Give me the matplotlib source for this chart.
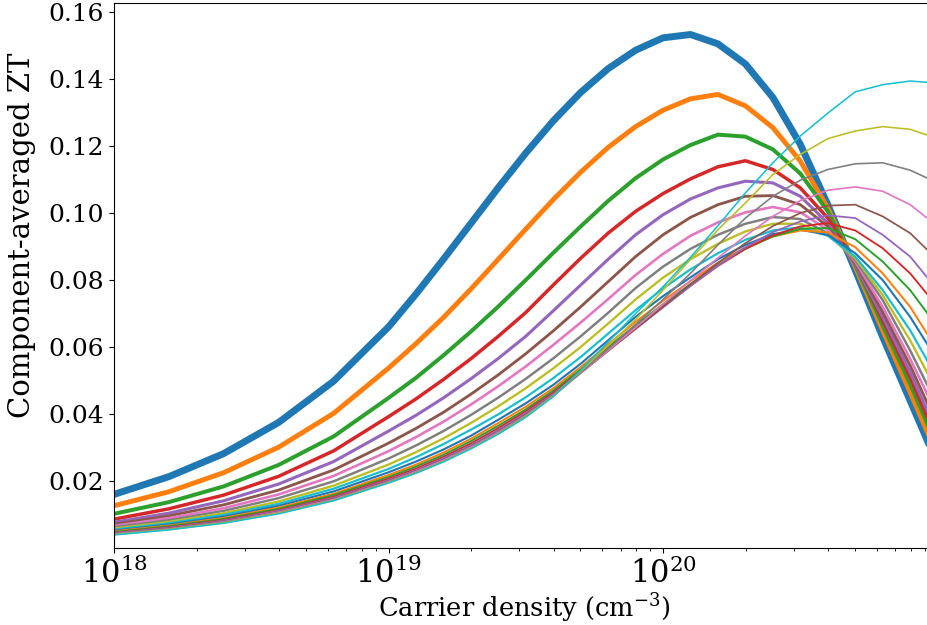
import numpy as np
import matplotlib
matplotlib.use('Agg')
import matplotlib.pyplot as plt

# log10 of the carrier density (cm^-3) where the curves were read
logn = [18.0, 18.2, 18.4, 18.6, 18.8, 19.0, 19.1, 19.2, 19.3, 19.4, 19.5, 19.6, 19.7,
        19.8, 19.9, 20.0, 20.1, 20.2, 20.3, 20.4, 20.5, 20.6, 20.7, 20.8, 20.9, 21.0]

# component-averaged ZT, one list per curve (plot order)
zt0 = [0.0160, 0.0213, 0.0282, 0.0375, 0.0498, 0.0660, 0.0758, 0.0862, 0.0969, 0.1076, 0.1179, 0.1275, 0.1360,
       0.1431, 0.1486, 0.1523, 0.1533, 0.1505, 0.1445, 0.1345, 0.1205, 0.1025, 0.0830, 0.0630, 0.0440, 0.0250]
zt1 = [0.0126, 0.0168, 0.0225, 0.0301, 0.0402, 0.0537, 0.0610, 0.0688, 0.0773, 0.0862, 0.0952, 0.1040, 0.1122,
       0.1196, 0.1258, 0.1307, 0.1341, 0.1354, 0.1320, 0.1255, 0.1155, 0.1015, 0.0840, 0.0650, 0.0465, 0.0275]
zt2 = [0.0102, 0.0137, 0.0184, 0.0248, 0.0333, 0.0448, 0.0508, 0.0575, 0.0646, 0.0721, 0.0800, 0.0881, 0.0960,
       0.1036, 0.1104, 0.1160, 0.1203, 0.1234, 0.1228, 0.1190, 0.1118, 0.1005, 0.0845, 0.0665, 0.0490, 0.0300]
zt3 = [0.0086, 0.0117, 0.0158, 0.0214, 0.0290, 0.0392, 0.0445, 0.0503, 0.0565, 0.0632, 0.0703, 0.0785, 0.0865,
       0.0940, 0.1005, 0.1058, 0.1102, 0.1138, 0.1156, 0.1130, 0.1075, 0.0985, 0.0850, 0.0680, 0.0510, 0.0320]
zt4 = [0.0077, 0.0104, 0.0141, 0.0191, 0.0258, 0.0349, 0.0396, 0.0448, 0.0505, 0.0566, 0.0632, 0.0708, 0.0785,
       0.0862, 0.0935, 0.0995, 0.1042, 0.1075, 0.1095, 0.1090, 0.1050, 0.0970, 0.0845, 0.0690, 0.0525, 0.0340]
zt5 = [0.0071, 0.0096, 0.0129, 0.0173, 0.0233, 0.0313, 0.0357, 0.0405, 0.0459, 0.0517, 0.0580, 0.0648, 0.0720,
       0.0795, 0.0870, 0.0935, 0.0987, 0.1025, 0.1050, 0.1052, 0.1025, 0.0960, 0.0850, 0.0705, 0.0545, 0.0365]
zt6 = [0.0066, 0.0089, 0.0119, 0.0160, 0.0215, 0.0289, 0.0331, 0.0377, 0.0428, 0.0483, 0.0542, 0.0606, 0.0673,
       0.0743, 0.0815, 0.0878, 0.0932, 0.0972, 0.1002, 0.1018, 0.1002, 0.0950, 0.0855, 0.0720, 0.0565, 0.0395]
zt7 = [0.0062, 0.0083, 0.0111, 0.0149, 0.0199, 0.0267, 0.0306, 0.0349, 0.0397, 0.0449, 0.0505, 0.0566, 0.0632,
       0.0702, 0.0776, 0.0840, 0.0893, 0.0935, 0.0968, 0.0988, 0.0982, 0.0940, 0.0860, 0.0740, 0.0590, 0.0425]
zt8 = [0.0058, 0.0078, 0.0104, 0.0139, 0.0186, 0.0249, 0.0286, 0.0327, 0.0373, 0.0423, 0.0477, 0.0536, 0.0600,
       0.0670, 0.0742, 0.0807, 0.0862, 0.0908, 0.0945, 0.0968, 0.0968, 0.0935, 0.0865, 0.0755, 0.0620, 0.0465]
zt9 = [0.0055, 0.0074, 0.0099, 0.0132, 0.0177, 0.0236, 0.0271, 0.0310, 0.0353, 0.0399, 0.0450, 0.0507, 0.0570,
       0.0640, 0.0710, 0.0775, 0.0832, 0.0880, 0.0920, 0.0948, 0.0957, 0.0932, 0.0870, 0.0770, 0.0650, 0.0505]
zt10 = [0.0052, 0.0070, 0.0094, 0.0126, 0.0169, 0.0226, 0.0258, 0.0294, 0.0335, 0.0383, 0.0432, 0.0487, 0.0550,
        0.0620, 0.0690, 0.0752, 0.0808, 0.0862, 0.0905, 0.0937, 0.0950, 0.0935, 0.0880, 0.0800, 0.0690, 0.0560]
zt11 = [0.0050, 0.0067, 0.0090, 0.0121, 0.0162, 0.0218, 0.0249, 0.0285, 0.0326, 0.0373, 0.0422, 0.0477, 0.0540,
        0.0608, 0.0675, 0.0738, 0.0797, 0.0852, 0.0897, 0.0930, 0.0948, 0.0942, 0.0898, 0.0820, 0.0720, 0.0590]
zt12 = [0.0048, 0.0065, 0.0087, 0.0117, 0.0158, 0.0212, 0.0243, 0.0278, 0.0319, 0.0365, 0.0414, 0.0470, 0.0533,
        0.0600, 0.0665, 0.0728, 0.0788, 0.0845, 0.0893, 0.0930, 0.0953, 0.0955, 0.0922, 0.0855, 0.0770, 0.0660]
zt13 = [0.0046, 0.0062, 0.0084, 0.0113, 0.0153, 0.0207, 0.0237, 0.0272, 0.0312, 0.0358, 0.0408, 0.0464, 0.0528,
        0.0594, 0.0658, 0.0721, 0.0783, 0.0842, 0.0893, 0.0933, 0.0960, 0.0970, 0.0948, 0.0895, 0.0820, 0.0720]
zt14 = [0.0045, 0.0061, 0.0082, 0.0111, 0.0150, 0.0203, 0.0233, 0.0268, 0.0307, 0.0353, 0.0403, 0.0460, 0.0524,
        0.0590, 0.0654, 0.0718, 0.0782, 0.0843, 0.0898, 0.0943, 0.0975, 0.0993, 0.0985, 0.0935, 0.0870, 0.0770]
zt15 = [0.0043, 0.0059, 0.0080, 0.0108, 0.0147, 0.0200, 0.0230, 0.0264, 0.0303, 0.0348, 0.0399, 0.0456, 0.0522,
        0.0588, 0.0654, 0.0720, 0.0787, 0.0851, 0.0910, 0.0961, 0.1000, 0.1022, 0.1025, 0.0990, 0.0940, 0.0860]
zt16 = [0.0042, 0.0057, 0.0078, 0.0107, 0.0145, 0.0198, 0.0228, 0.0262, 0.0301, 0.0345, 0.0396, 0.0454, 0.0522,
        0.0590, 0.0658, 0.0728, 0.0798, 0.0866, 0.0932, 0.0990, 0.1037, 0.1068, 0.1078, 0.1065, 0.1025, 0.0960]
zt17 = [0.0041, 0.0056, 0.0077, 0.0105, 0.0143, 0.0196, 0.0225, 0.0259, 0.0298, 0.0342, 0.0394, 0.0453, 0.0524,
        0.0594, 0.0667, 0.0742, 0.0820, 0.0905, 0.0985, 0.1050, 0.1098, 0.1130, 0.1147, 0.1150, 0.1128, 0.1090]
zt18 = [0.0040, 0.0055, 0.0075, 0.0104, 0.0142, 0.0195, 0.0224, 0.0258, 0.0297, 0.0341, 0.0392, 0.0454, 0.0528,
        0.0604, 0.0682, 0.0770, 0.0862, 0.0950, 0.1030, 0.1115, 0.1175, 0.1222, 0.1245, 0.1258, 0.1250, 0.1222]
zt19 = [0.0039, 0.0054, 0.0074, 0.0102, 0.0141, 0.0194, 0.0223, 0.0257, 0.0296, 0.0340, 0.0390, 0.0452, 0.0530,
        0.0615, 0.0700, 0.0780, 0.0868, 0.0962, 0.1060, 0.1150, 0.1230, 0.1298, 0.1362, 0.1383, 0.1394, 0.1388]

curves = [zt0, zt1, zt2, zt3, zt4, zt5, zt6, zt7, zt8, zt9,
          zt10, zt11, zt12, zt13, zt14, zt15, zt16, zt17, zt18, zt19]

plt.rcParams['font.family'] = 'DejaVu Serif'
plt.rcParams['mathtext.fontset'] = 'dejavuserif'

n = 10.0 ** np.array(logn)

fig = plt.figure(figsize=(9.28, 6.25), dpi=100)
# axes runs a little past the right edge of the picture (cropped like the original)
ax = fig.add_axes([0.1228, 0.1232, 0.8874, 0.872])

for i, zt in enumerate(curves):
    ax.plot(n, zt, lw=5.0 / np.sqrt(i + 1))

ax.set_xscale('log')
ax.set_xlim(1e18, 9.99e20)
ax.set_ylim(0, 0.1627)
ax.set_yticks([0.02, 0.04, 0.06, 0.08, 0.10, 0.12, 0.14, 0.16])
ax.tick_params(axis='y', labelsize=18)
ax.tick_params(axis='x', labelsize=22)
ax.set_xlabel('Carrier density (cm$^{-3}$)', fontsize=18.5)
ax.set_ylabel('Component-averaged ZT', fontsize=21)
ax.xaxis.set_label_coords(0.499, -0.08)
ax.yaxis.set_label_coords(-0.095, 0.574)

fig.savefig('out.png', dpi=100)
